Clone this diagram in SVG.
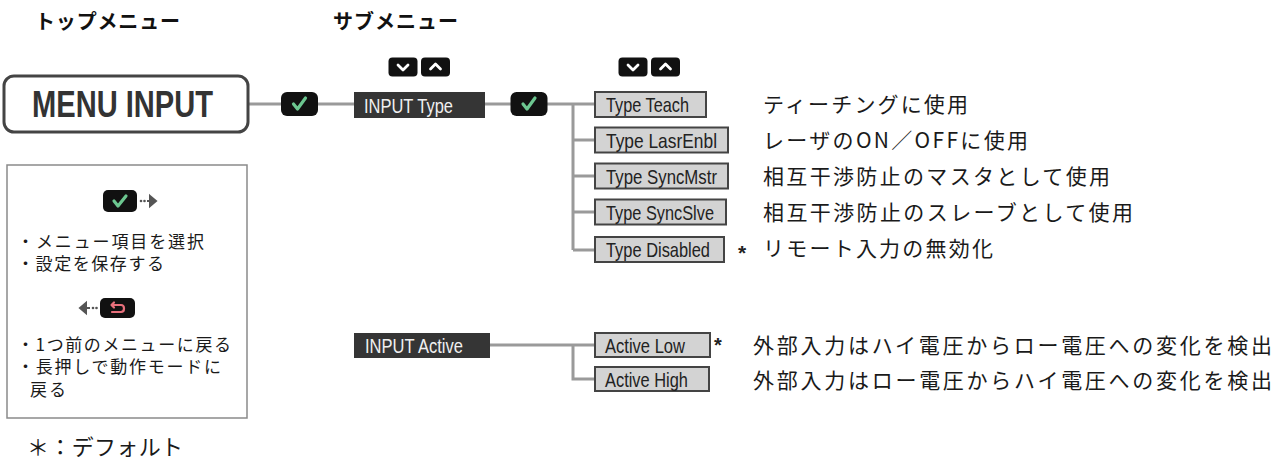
<svg xmlns="http://www.w3.org/2000/svg" width="1283" height="460" viewBox="0 0 1283 460">
<style>
.lat{font-family:"Liberation Sans",Arial,sans-serif}
.jp{font-family:"Noto Sans CJK JP","Noto Sans CJK SC",sans-serif;fill:#1a1a1a}
.hdr{font-family:"Noto Sans CJK JP",sans-serif;font-weight:bold;font-size:20px;fill:#111}
.conn{stroke:#9a9a9a;stroke-width:3;fill:none}
.btn{fill:#111}
.chk{stroke:#6cc790;stroke-width:3.2;fill:none;stroke-linecap:round;stroke-linejoin:round}
.chev{stroke:#fff;stroke-width:2.8;fill:none;stroke-linecap:round;stroke-linejoin:round}
.dark{fill:#353535}
.darkt{font-size:21px;fill:#f0f0f0}
.opt{fill:#d3d3d3;stroke:#444;stroke-width:2}
.optt{font-size:21px;fill:#222}
.desc{font-size:21px}
.leg{font-size:17px}
</style>
<defs>
<g id="check"><rect x="-18.5" y="-12" width="37" height="24" rx="6" class="btn"/><path d="M-6,0 L-2,5 L6,-6" class="chk"/></g>
<g id="down"><rect x="-14.5" y="-9.5" width="29" height="19" rx="4" class="btn"/><path d="M-5,-2 L0,3 L5,-2" class="chev"/></g>
<g id="up"><rect x="-14.5" y="-9.5" width="29" height="19" rx="4" class="btn"/><path d="M-5,2 L0,-3 L5,2" class="chev"/></g>
</defs>

<text class="hdr" x="35" y="29" textLength="145">トップメニュー</text>
<text class="hdr" x="333" y="29" textLength="125">サブメニュー</text>

<g id="connectors">
<path class="conn" d="M248,104 H281 M318,104 H354 M485,104 H511 M547,104 H595"/>
<path class="conn" d="M573,104 V250 M573,140 H595 M573,176 H595 M573,212 H595 M573,250 H595"/>
<path class="conn" d="M490,345 H595 M573,345 V379 H595"/>
</g>

<g id="menu-input">
<rect x="4" y="76" width="244" height="56" rx="10" fill="#fff" stroke="#444" stroke-width="3"/>
<text class="lat" x="32" y="117" font-size="36" font-weight="bold" fill="#333" textLength="181" lengthAdjust="spacingAndGlyphs">MENU INPUT</text>
</g>

<g id="check1"><use href="#check" x="299.5" y="104"/></g>

<g id="nav1"><use href="#down" x="403" y="67"/><use href="#up" x="435.5" y="67"/></g>

<g id="input-type">
<rect x="354" y="92" width="131" height="26" class="dark"/>
<text class="lat darkt" x="364" y="112.5" textLength="89" lengthAdjust="spacingAndGlyphs">INPUT Type</text>
</g>

<g id="check2"><use href="#check" x="529" y="104"/></g>

<g id="nav2"><use href="#down" x="633" y="67"/><use href="#up" x="665.5" y="67"/></g>

<g id="type-teach">
<rect x="595" y="92" width="111" height="25" class="opt"/>
<text class="lat optt" x="606" y="112" textLength="83" lengthAdjust="spacingAndGlyphs">Type Teach</text>
</g>
<g id="type-lasrenbl">
<rect x="595" y="127.5" width="133" height="25" class="opt"/>
<text class="lat optt" x="606" y="147.5" textLength="111" lengthAdjust="spacingAndGlyphs">Type LasrEnbl</text>
</g>
<g id="type-syncmstr">
<rect x="595" y="163.5" width="133" height="25" class="opt"/>
<text class="lat optt" x="606" y="183.5" textLength="111" lengthAdjust="spacingAndGlyphs">Type SyncMstr</text>
</g>
<g id="type-syncslve">
<rect x="595" y="199.5" width="131" height="25" class="opt"/>
<text class="lat optt" x="606" y="219.5" textLength="108" lengthAdjust="spacingAndGlyphs">Type SyncSlve</text>
</g>
<g id="type-disabled">
<rect x="595" y="237" width="129" height="25" class="opt"/>
<text class="lat optt" x="606" y="257" textLength="104" lengthAdjust="spacingAndGlyphs">Type Disabled</text>
<text class="lat" x="738" y="260" font-size="21" font-weight="bold" fill="#222">*</text>
</g>

<text class="jp desc" x="763" y="112" textLength="205">ティーチングに使用</text>
<text class="jp desc" x="763" y="148" textLength="265">レーザのON／OFFに使用</text>
<text class="jp desc" x="763" y="184" textLength="347">相互干渉防止のマスタとして使用</text>
<text class="jp desc" x="763" y="220" textLength="370">相互干渉防止のスレーブとして使用</text>
<text class="jp desc" x="763" y="256" textLength="230">リモート入力の無効化</text>

<g id="input-active">
<rect x="354" y="333" width="136" height="25" class="dark"/>
<text class="lat darkt" x="365" y="353" textLength="98" lengthAdjust="spacingAndGlyphs">INPUT Active</text>
</g>
<g id="active-low">
<rect x="595" y="333" width="115" height="24" class="opt"/>
<text class="lat optt" x="605" y="352.5" textLength="80" lengthAdjust="spacingAndGlyphs">Active Low</text>
<text class="lat" x="714" y="352" font-size="20" font-weight="bold" fill="#222">*</text>
</g>
<g id="active-high">
<rect x="595" y="367" width="114" height="24" class="opt"/>
<text class="lat optt" x="605" y="386.5" textLength="83" lengthAdjust="spacingAndGlyphs">Active High</text>
</g>

<text class="jp desc" x="753" y="353" textLength="519">外部入力はハイ電圧からロー電圧への変化を検出</text>
<text class="jp desc" x="753" y="388" textLength="519">外部入力はロー電圧からハイ電圧への変化を検出</text>

<g id="legend">
<rect x="7" y="165" width="240" height="253" fill="#fff" stroke="#8a8a8a" stroke-width="1.5"/>
<rect x="103" y="190" width="34" height="22" rx="5" class="btn"/>
<path d="M114,201 L118,206 L126,196" class="chk"/>
<circle cx="141" cy="201" r="1.3" fill="#555"/><circle cx="144.5" cy="201" r="1.3" fill="#555"/>
<path d="M147,201 H152 M150,196 L156,201 L150,206 Z" stroke="#555" stroke-width="2" fill="#555"/>
<text class="jp leg" x="17" y="248" textLength="187">・メニュー項目を選択</text>
<text class="jp leg" x="17" y="270" textLength="147">・設定を保存する</text>
<path d="M80,308 L86,303 L86,313 Z M85,308 H90" stroke="#555" stroke-width="2" fill="#555"/>
<circle cx="93" cy="308" r="1.3" fill="#555"/><circle cx="96.5" cy="308" r="1.3" fill="#555"/>
<rect x="100" y="298" width="35" height="20" rx="5" class="btn"/>
<path d="M112,305 H121 Q124,305 124,308.5 Q124,312 121,312 H112 M114,302.5 L111.5,305 L114,307.5" stroke="#e8707c" stroke-width="2.2" fill="none" stroke-linecap="round" stroke-linejoin="round"/>
<text class="jp leg" x="17" y="351" textLength="214">・1つ前のメニューに戻る</text>
<text class="jp leg" x="17" y="373" textLength="204">・長押しで動作モードに</text>
<text class="jp leg" x="30" y="396" textLength="36">戻る</text>
</g>

<text class="jp" x="27" y="455" font-size="22" textLength="156">＊：デフォルト</text>
</svg>
